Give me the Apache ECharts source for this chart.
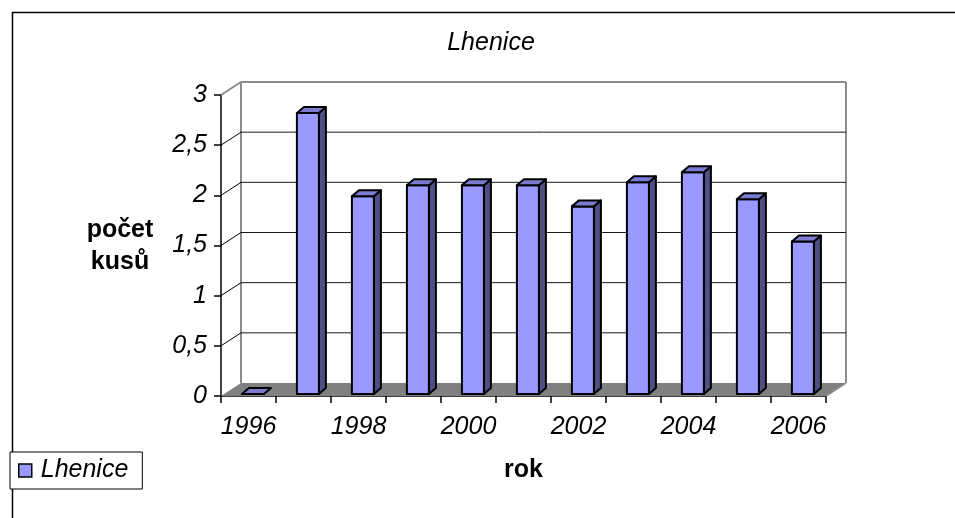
<!DOCTYPE html>
<html>
<head>
<meta charset="utf-8">
<title>Lhenice</title>
<script src="https://cdn.jsdelivr.net/npm/echarts@6/dist/echarts.min.js"></script>
<style>
  html, body { margin: 0; padding: 0; background: #fff; }
  #chart { width: 955px; height: 518px; }
</style>
</head>
<body>
<div id="chart"></div>
<script>
// Roky (kategorie) a počty kusů
const years = ['1996', '1997', '1998', '1999', '2000', '2001', '2002', '2003', '2004', '2005', '2006'];
const counts = [0, 2.8, 1.97, 2.08, 2.08, 2.08, 1.87, 2.11, 2.21, 1.94, 1.52];
const valueTicks = [0, 0.5, 1, 1.5, 2, 2.5, 3];
const seriesName = 'Lhenice';

const FONT = "'Liberation Sans', Arial, sans-serif";
// pseudo-3D depth of the walls and of each column
const WALL_DX = 20, WALL_DY = -13;
const BAR_DX = 7, BAR_DY = -6;

const chart = echarts.init(document.getElementById('chart'));

function renderWalls(params, api) {
  const cs = params.coordSys;
  const v = api.value(1);
  const y = api.coord([0, v])[1];
  const x0 = cs.x, x1 = cs.x + cs.width;
  const children = [];
  if (v === 0) {
    const yb = y;
    // floor
    children.push({
      type: 'polygon',
      shape: { points: [[x0, yb], [x1, yb], [x1 + WALL_DX, yb + WALL_DY], [x0 + WALL_DX, yb + WALL_DY]] },
      style: { fill: '#808080', stroke: null }
    });
    // back wall edges
    const yt = cs.y;
    children.push({
      type: 'line',
      shape: { x1: x0 + WALL_DX, y1: yt + WALL_DY, x2: x0 + WALL_DX, y2: yb + WALL_DY },
      style: { stroke: '#8c8c8c', lineWidth: 2 }
    });
    children.push({
      type: 'line',
      shape: { x1: x1 + WALL_DX, y1: yt + WALL_DY, x2: x1 + WALL_DX, y2: yb + WALL_DY },
      style: { stroke: '#8c8c8c', lineWidth: 2 }
    });
    children.push({
      type: 'line',
      shape: { x1: x1, y1: yb, x2: x1 + WALL_DX, y2: yb + WALL_DY },
      style: { stroke: '#8c8c8c', lineWidth: 1.5 }
    });
  } else {
    const top = v === 3;
    const style = top ? { stroke: '#8c8c8c', lineWidth: 2 } : { stroke: '#000', lineWidth: 1 };
    children.push({
      type: 'line',
      shape: { x1: x0, y1: y, x2: x0 + WALL_DX, y2: y + WALL_DY },
      style: style
    });
    children.push({
      type: 'line',
      shape: { x1: x0 + WALL_DX, y1: y + WALL_DY, x2: x1 + WALL_DX, y2: y + WALL_DY },
      style: top ? style : { stroke: '#1a1a1a', lineWidth: 1 }
    });
  }
  return { type: 'group', children: children };
}

function renderColumn(params, api) {
  const idx = api.value(0);
  const val = api.value(1);
  const base = api.coord([idx, 0]);
  const tip = api.coord([idx, val]);
  const band = api.size([1, 0])[0];
  const w = band * 0.4;
  const shiftX = band * 0.08, shiftY = -2;
  const xl = base[0] + shiftX - w / 2;
  const xr = xl + w;
  const yb = base[1] + shiftY;
  const yt = tip[1] + shiftY;
  const stroke = { stroke: '#000', lineWidth: 2, lineJoin: 'round' };
  const children = [];
  if (yb - yt > 0.5) {
    children.push({
      type: 'polygon',
      shape: { points: [[xr, yt], [xr + BAR_DX, yt + BAR_DY], [xr + BAR_DX, yb + BAR_DY], [xr, yb]] },
      style: Object.assign({ fill: '#4f4f85' }, stroke)
    });
    children.push({
      type: 'rect',
      shape: { x: xl, y: yt, width: w, height: yb - yt },
      style: Object.assign({ fill: '#9999ff' }, stroke)
    });
  }
  children.push({
    type: 'polygon',
    shape: { points: [[xl, yt], [xl + BAR_DX, yt + BAR_DY], [xr + BAR_DX, yt + BAR_DY], [xr, yt]] },
    style: Object.assign({ fill: '#7b7bd1' }, stroke)
  });
  return { type: 'group', children: children };
}

const option = {
  backgroundColor: '#ffffff',
  animation: false,
  title: {
    text: seriesName,
    left: 491,
    top: 31,
    padding: 0,
    textAlign: 'center',
    textStyle: { fontFamily: FONT, fontSize: 25, fontStyle: 'italic', fontWeight: 'normal', color: '#000' }
  },
  legend: {
    data: [seriesName],
    left: 10,
    top: 452,
    orient: 'vertical',
    icon: 'rect',
    itemWidth: 13,
    itemHeight: 13,
    padding: [6, 14, 6, 8],
    borderColor: '#000',
    borderWidth: 1,
    backgroundColor: '#fff',
    itemStyle: { color: '#9999ff', borderColor: '#000', borderWidth: 1.5 },
    textStyle: { fontFamily: FONT, fontSize: 25, fontStyle: 'italic', color: '#000', padding: [0, 0, 0, 4] }
  },
  grid: { left: 221, width: 605, top: 95, bottom: 122, containLabel: false },
  xAxis: {
    type: 'category',
    data: years,
    boundaryGap: true,
    name: 'rok',
    nameLocation: 'middle',
    nameGap: 62,
    nameTextStyle: { fontFamily: FONT, fontSize: 25, fontWeight: 'bold', color: '#000' },
    axisLine: { lineStyle: { color: '#000', width: 1.5 } },
    axisTick: { show: true, interval: 0, length: 7, lineStyle: { color: '#000', width: 1.5 } },
    axisLabel: {
      interval: 1,
      margin: 19,
      fontFamily: FONT,
      fontSize: 25,
      fontStyle: 'italic',
      color: '#000'
    },
    splitLine: { show: false }
  },
  yAxis: {
    type: 'value',
    min: 0,
    max: 3,
    interval: 0.5,
    axisLine: { show: true, lineStyle: { color: '#000', width: 1.5 } },
    axisTick: { show: true, length: 7, lineStyle: { color: '#000', width: 1.5 } },
    axisLabel: {
      margin: 14,
      fontFamily: FONT,
      fontSize: 25,
      fontStyle: 'italic',
      color: '#000',
      formatter: (v) => String(v).replace('.', ',')
    },
    splitLine: { show: false }
  },
  graphic: [
    {
      type: 'rect',
      left: 10, top: 10,
      shape: { x: 0, y: 0, width: 960, height: 520 },
      style: { fill: null, stroke: '#000', lineWidth: 1.5 },
      z: -10,
      silent: true
    },
    {
      type: 'text',
      x: 120, y: 246,
      style: {
        text: 'počet\nkusů',
        fontFamily: FONT,
        fontSize: 25,
        fontWeight: 'bold',
        lineHeight: 32,
        fill: '#000',
        align: 'center',
        verticalAlign: 'middle'
      }
    }
  ],
  series: [
    {
      name: 'walls',
      type: 'custom',
      clip: false,
      silent: true,
      z: 1,
      encode: { x: 0, y: 1 },
      renderItem: renderWalls,
      data: valueTicks.map((v) => [0, v])
    },
    {
      name: seriesName,
      type: 'custom',
      clip: false,
      z: 3,
      encode: { x: 0, y: 1 },
      itemStyle: { color: '#9999ff', borderColor: '#000', borderWidth: 1.5 },
      renderItem: renderColumn,
      data: counts.map((v, i) => [i, v])
    }
  ]
};

chart.setOption(option);
</script>
</body>
</html>
